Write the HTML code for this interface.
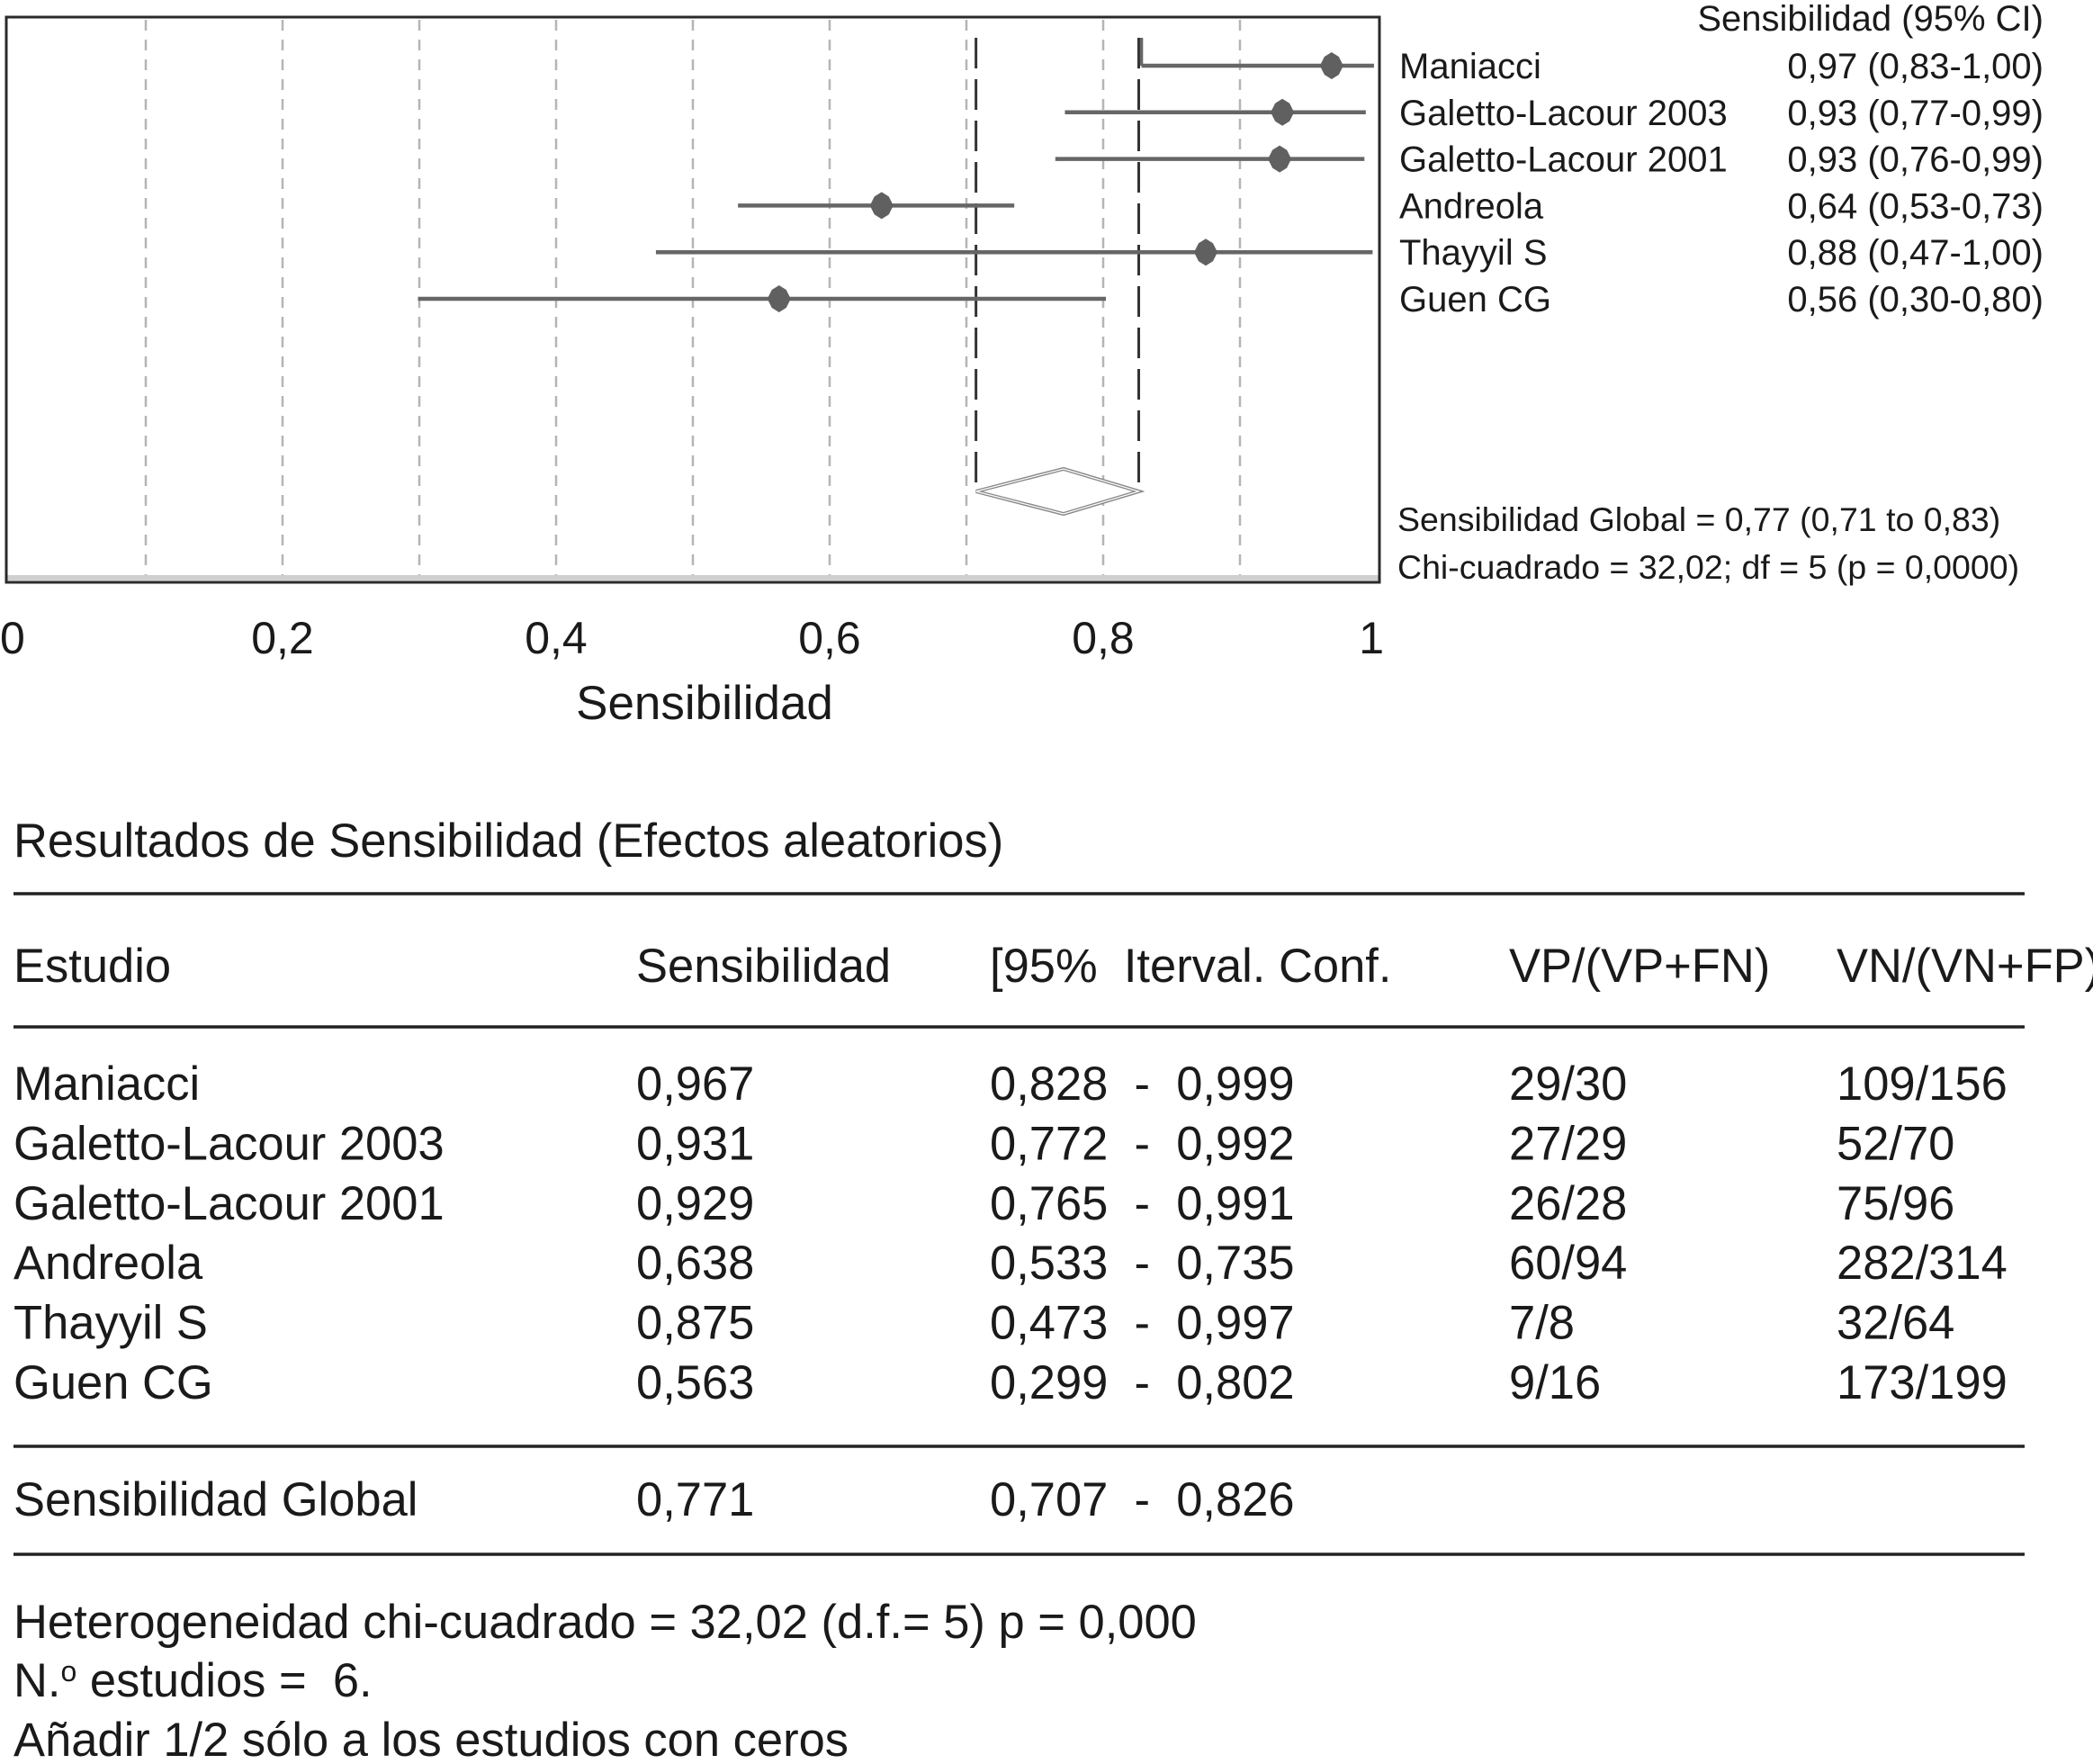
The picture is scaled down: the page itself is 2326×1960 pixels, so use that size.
<!DOCTYPE html>
<html><head><meta charset="utf-8"><style>
html,body{margin:0;padding:0;background:#fff}
svg{display:block}
text{font-family:"Liberation Sans",Arial,sans-serif;fill:#1a1a1a}
</style></head><body>
<svg id="chart" width="2326" height="1960" viewBox="0 0 2326 1960">
<g id="plot"></g>
<g id="table"></g>
</svg>
<script>
const studies = ["Maniacci","Galetto-Lacour 2003","Galetto-Lacour 2001","Andreola","Thayyil S","Guen CG"];
const sens = [0.967,0.931,0.929,0.638,0.875,0.563];
const lower = [0.828,0.772,0.765,0.533,0.473,0.299];
const upper = [0.999,0.992,0.991,0.735,0.997,0.802];
const ciLabels = ["0,97 (0,83-1,00)","0,93 (0,77-0,99)","0,93 (0,76-0,99)","0,64 (0,53-0,73)","0,88 (0,47-1,00)","0,56 (0,30-0,80)"];
const tpText = ["29/30","27/29","26/28","60/94","7/8","9/16"];
const tnText = ["109/156","52/70","75/96","282/314","32/64","173/199"];
const pooled = [0.771,0.707,0.826];
const xTicks = [0,0.2,0.4,0.6,0.8,1];
const xTickLabels = ["0","0,2","0,4","0,6","0,8","1"];
const gridVals = [0.1,0.2,0.3,0.4,0.5,0.6,0.7,0.8,0.9];

const NS="http://www.w3.org/2000/svg";
function mk(parent,tag,attrs,txt){const e=document.createElementNS(NS,tag);for(const k in attrs)e.setAttribute(k,attrs[k]);if(txt!==undefined)e.textContent=txt;parent.appendChild(e);return e;}
const X0=10,X1=1530;
const xs=v=>X0+(X1-X0)*v;
const rowY=i=>73+i*51.8;
const plot=document.getElementById('plot');
const table=document.getElementById('table');
const fmt=v=>v.toFixed(3).replace('.',',');

let e=mk(plot,'rect',{x:7,y:19,width:1526,height:628,fill:'#fff',stroke:'none'});


gridVals.forEach((g,i)=>{
  const l=mk(plot,'line',{x1:xs(g),x2:xs(g),y1:22,y2:642,stroke:'#b5b5b5','stroke-width':2.5,'stroke-dasharray':'12 10'});
  
  
});
mk(plot,'rect',{x:7,y:639,width:1526,height:6,fill:'#cfcfcf'});
e=mk(plot,'rect',{x:7,y:19,width:1526,height:628,fill:'none',stroke:'#2a2a2a','stroke-width':3});



[pooled[1],pooled[2]].forEach((v,i)=>{
  const l=mk(plot,'line',{x1:xs(v),x2:xs(v),y1:42,y2:546,stroke:'#333','stroke-width':3,'stroke-dasharray':'34 12'});
  
  
});
e=mk(plot,'polygon',{points:`${xs(pooled[1])},546 ${xs(pooled[0])},521 ${xs(pooled[2])},546 ${xs(pooled[0])},571`,fill:'#fff',stroke:'#888','stroke-width':4});


mk(plot,'polygon',{points:`${xs(pooled[1])},546 ${xs(pooled[0])},521 ${xs(pooled[2])},546 ${xs(pooled[0])},571`,fill:'none',stroke:'#fff','stroke-width':1.2});

studies.forEach((s,i)=>{
  const y=rowY(i);
  const l=mk(plot,'line',{x1:xs(lower[i]),x2:xs(Math.min(upper[i],0.998)),y1:y,y2:y,stroke:'#666','stroke-width':4.5});
  
  
  const cx=xs(sens[i]);
  const d=mk(plot,'polygon',{points:`${cx-13},${y} ${cx-8},${y-10} ${cx},${y-15} ${cx+8},${y-10} ${cx+13},${y} ${cx+8},${y+10} ${cx},${y+15} ${cx-8},${y+10}`,fill:'#606060'});
  
  
  const t=mk(plot,'text',{x:1555,y:y+14,'font-size':40},s);
  
  
  const v=mk(plot,'text',{x:2271,y:y+14,'font-size':40,'text-anchor':'end'},ciLabels[i]);
  
  
});
mk(plot,'line',{x1:xs(lower[0]),x2:xs(lower[0]),y1:42,y2:rowY(0),stroke:'#666','stroke-width':3.5});
e=mk(plot,'text',{x:2271,y:34,'font-size':40,'text-anchor':'end'},'Sensibilidad (95% CI)');


e=mk(plot,'text',{x:1553,y:590,'font-size':37.5},'Sensibilidad Global = 0,77 (0,71 to 0,83)');


e=mk(plot,'text',{x:1553,y:643,'font-size':37.5},'Chi-cuadrado = 32,02; df = 5 (p = 0,0000)');



xTicks.forEach((v,i)=>{
  const t=mk(plot,'text',{x:xs(v),y:726,'font-size':50,'text-anchor':i===0?'start':(i===xTicks.length-1?'end':'middle')},xTickLabels[i]);
  if(i===0)t.setAttribute('x',xs(v)-10);
  if(i===xTicks.length-1)t.setAttribute('x',xs(v)+8);
  
  
});
e=mk(plot,'text',{x:783,y:799,'font-size':53,'text-anchor':'middle'},'Sensibilidad');



const FS=52.5;
function tx(x,y,s,name){const t=mk(table,'text',{x:x,y:y,'font-size':FS},s);t.setAttribute('xml:space','preserve');t.style.whiteSpace='pre';return t;}
function hr(y,name){const l=mk(table,'line',{x1:15,x2:2250,y1:y,y2:y,stroke:'#222','stroke-width':3.5});}
tx(15,952,'Resultados de Sensibilidad (Efectos aleatorios)','table-title');
hr(993,'table-rule-top');
const cols=[15,707,1100,1677,2041];
tx(cols[0],1091,'Estudio','header-study');
tx(cols[1],1091,'Sensibilidad','header-sensitivity');
tx(cols[2],1091,'[95%  Iterval. Conf.','header-ci');
tx(cols[3],1091,'VP/(VP+FN)','header-tp');
tx(cols[4],1091,'VN/(VN+FP)','header-tn');
hr(1141,'table-rule-header');
studies.forEach((s,i)=>{
  const y=1222+i*66.4;
  tx(cols[0],y,s,'row-study-'+i);
  tx(cols[1],y,fmt(sens[i]),'row-sens-'+i);
  tx(cols[2],y,fmt(lower[i])+'  -  '+fmt(upper[i]),'row-ci-'+i);
  tx(cols[3],y,tpText[i],'row-tp-'+i);
  tx(cols[4],y,tnText[i],'row-tn-'+i);
});
hr(1607,'table-rule-body');
tx(cols[0],1684,'Sensibilidad Global','row-global');
tx(cols[1],1684,fmt(pooled[0]),'row-global-sens');
tx(cols[2],1684,fmt(pooled[1])+'  -  '+fmt(pooled[2]),'row-global-ci');
hr(1727,'table-rule-bottom');
tx(15,1820,'Heterogeneidad chi-cuadrado = 32,02 (d.f.= 5) p = 0,000','footer-heterogeneity');
const f2=tx(15,1885,'N.','footer-n-studies');
mk(f2,'tspan',{dy:-17,'font-size':32},'o');
mk(f2,'tspan',{dy:17},' estudios =  6.');
tx(15,1951,'Añadir 1/2 sólo a los estudios con ceros','footer-note');
</script>
</body></html>
